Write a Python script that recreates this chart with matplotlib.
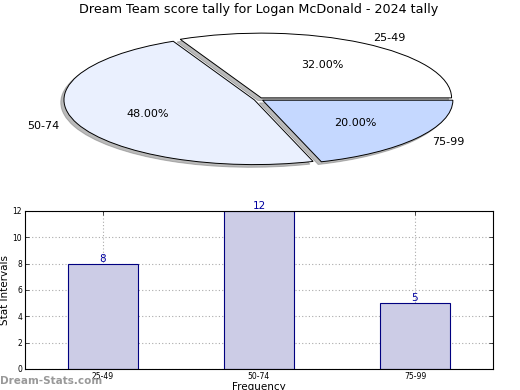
import matplotlib
matplotlib.use("Agg")
import matplotlib.pyplot as plt
import numpy as np

# --- Data --------------------------------------------------------------------
CATEGORIES = ["25-49", "50-74", "75-99"]
COUNTS     = [8, 12, 5]
PIE_COLORS = ["#FFFFFF", "#EAF0FE", "#C5D8FF"]
TITLE      = "Dream Team score tally for Logan McDonald - 2024 tally"
# -----------------------------------------------------------------------------

fig = plt.figure(figsize=(5.2, 3.9), dpi=100)

# ── Pie ──────────────────────────────────────────────────────────────────────
ax_pie = fig.add_axes([0.04, 0.538, 0.915, 0.415])
wedges, texts, autotexts = ax_pie.pie(
    COUNTS, labels=CATEGORIES, colors=PIE_COLORS, autopct="%.2f%%",
    explode=[0.025] * len(COUNTS), startangle=0,
    shadow=dict(ox=-0.012, oy=-0.03, facecolor="#777777", edgecolor="#777777"),
    wedgeprops=dict(edgecolor="black", linewidth=0.7),
    textprops=dict(fontsize=8))
ax_pie.set_aspect("auto")
ax_pie.set_xlim(-1.25, 1.25)
ax_pie.set_ylim(-1.25, 1.25)
ax_pie.set_title(TITLE, fontsize=9.2, pad=4)

# ── Bars ─────────────────────────────────────────────────────────────────────
ax = fig.add_axes([0.048, 0.054, 0.9, 0.405])
x = np.arange(len(CATEGORIES))
ax.bar(x, COUNTS, width=0.45, color="#CCCCE6", edgecolor="#000080",
       linewidth=0.8, zorder=2)
for xi, v in zip(x, COUNTS):
    ax.text(xi, v, str(v), ha="center", va="bottom", color="#0000A0",
            fontsize=7.5)
ax.set_xlim(-0.5, 2.5)
ax.set_ylim(0, 12)
ax.set_xticks(x)
ax.set_xticklabels(CATEGORIES)
ax.set_yticks(range(0, 13, 2))
ax.tick_params(labelsize=5.5, direction="in", length=3, width=0.5,
               top=True, right=True, pad=2)
ax.grid(True, ls=(0, (1, 2)), color="#aaaaaa", lw=0.8, zorder=0)
ax.set_axisbelow(True)
ax.set_xlabel("Frequency", fontsize=7.5, labelpad=1)
ax.set_ylabel("Stat Intervals", fontsize=7.5, labelpad=2)
for s in ax.spines.values():
    s.set_linewidth(0.8)

fig.text(0.0, 0.01, "Dream-Stats.com", color="#999999", fontsize=7.5,
         fontweight="bold", ha="left", va="bottom")

fig.savefig("out.png", dpi=100)
